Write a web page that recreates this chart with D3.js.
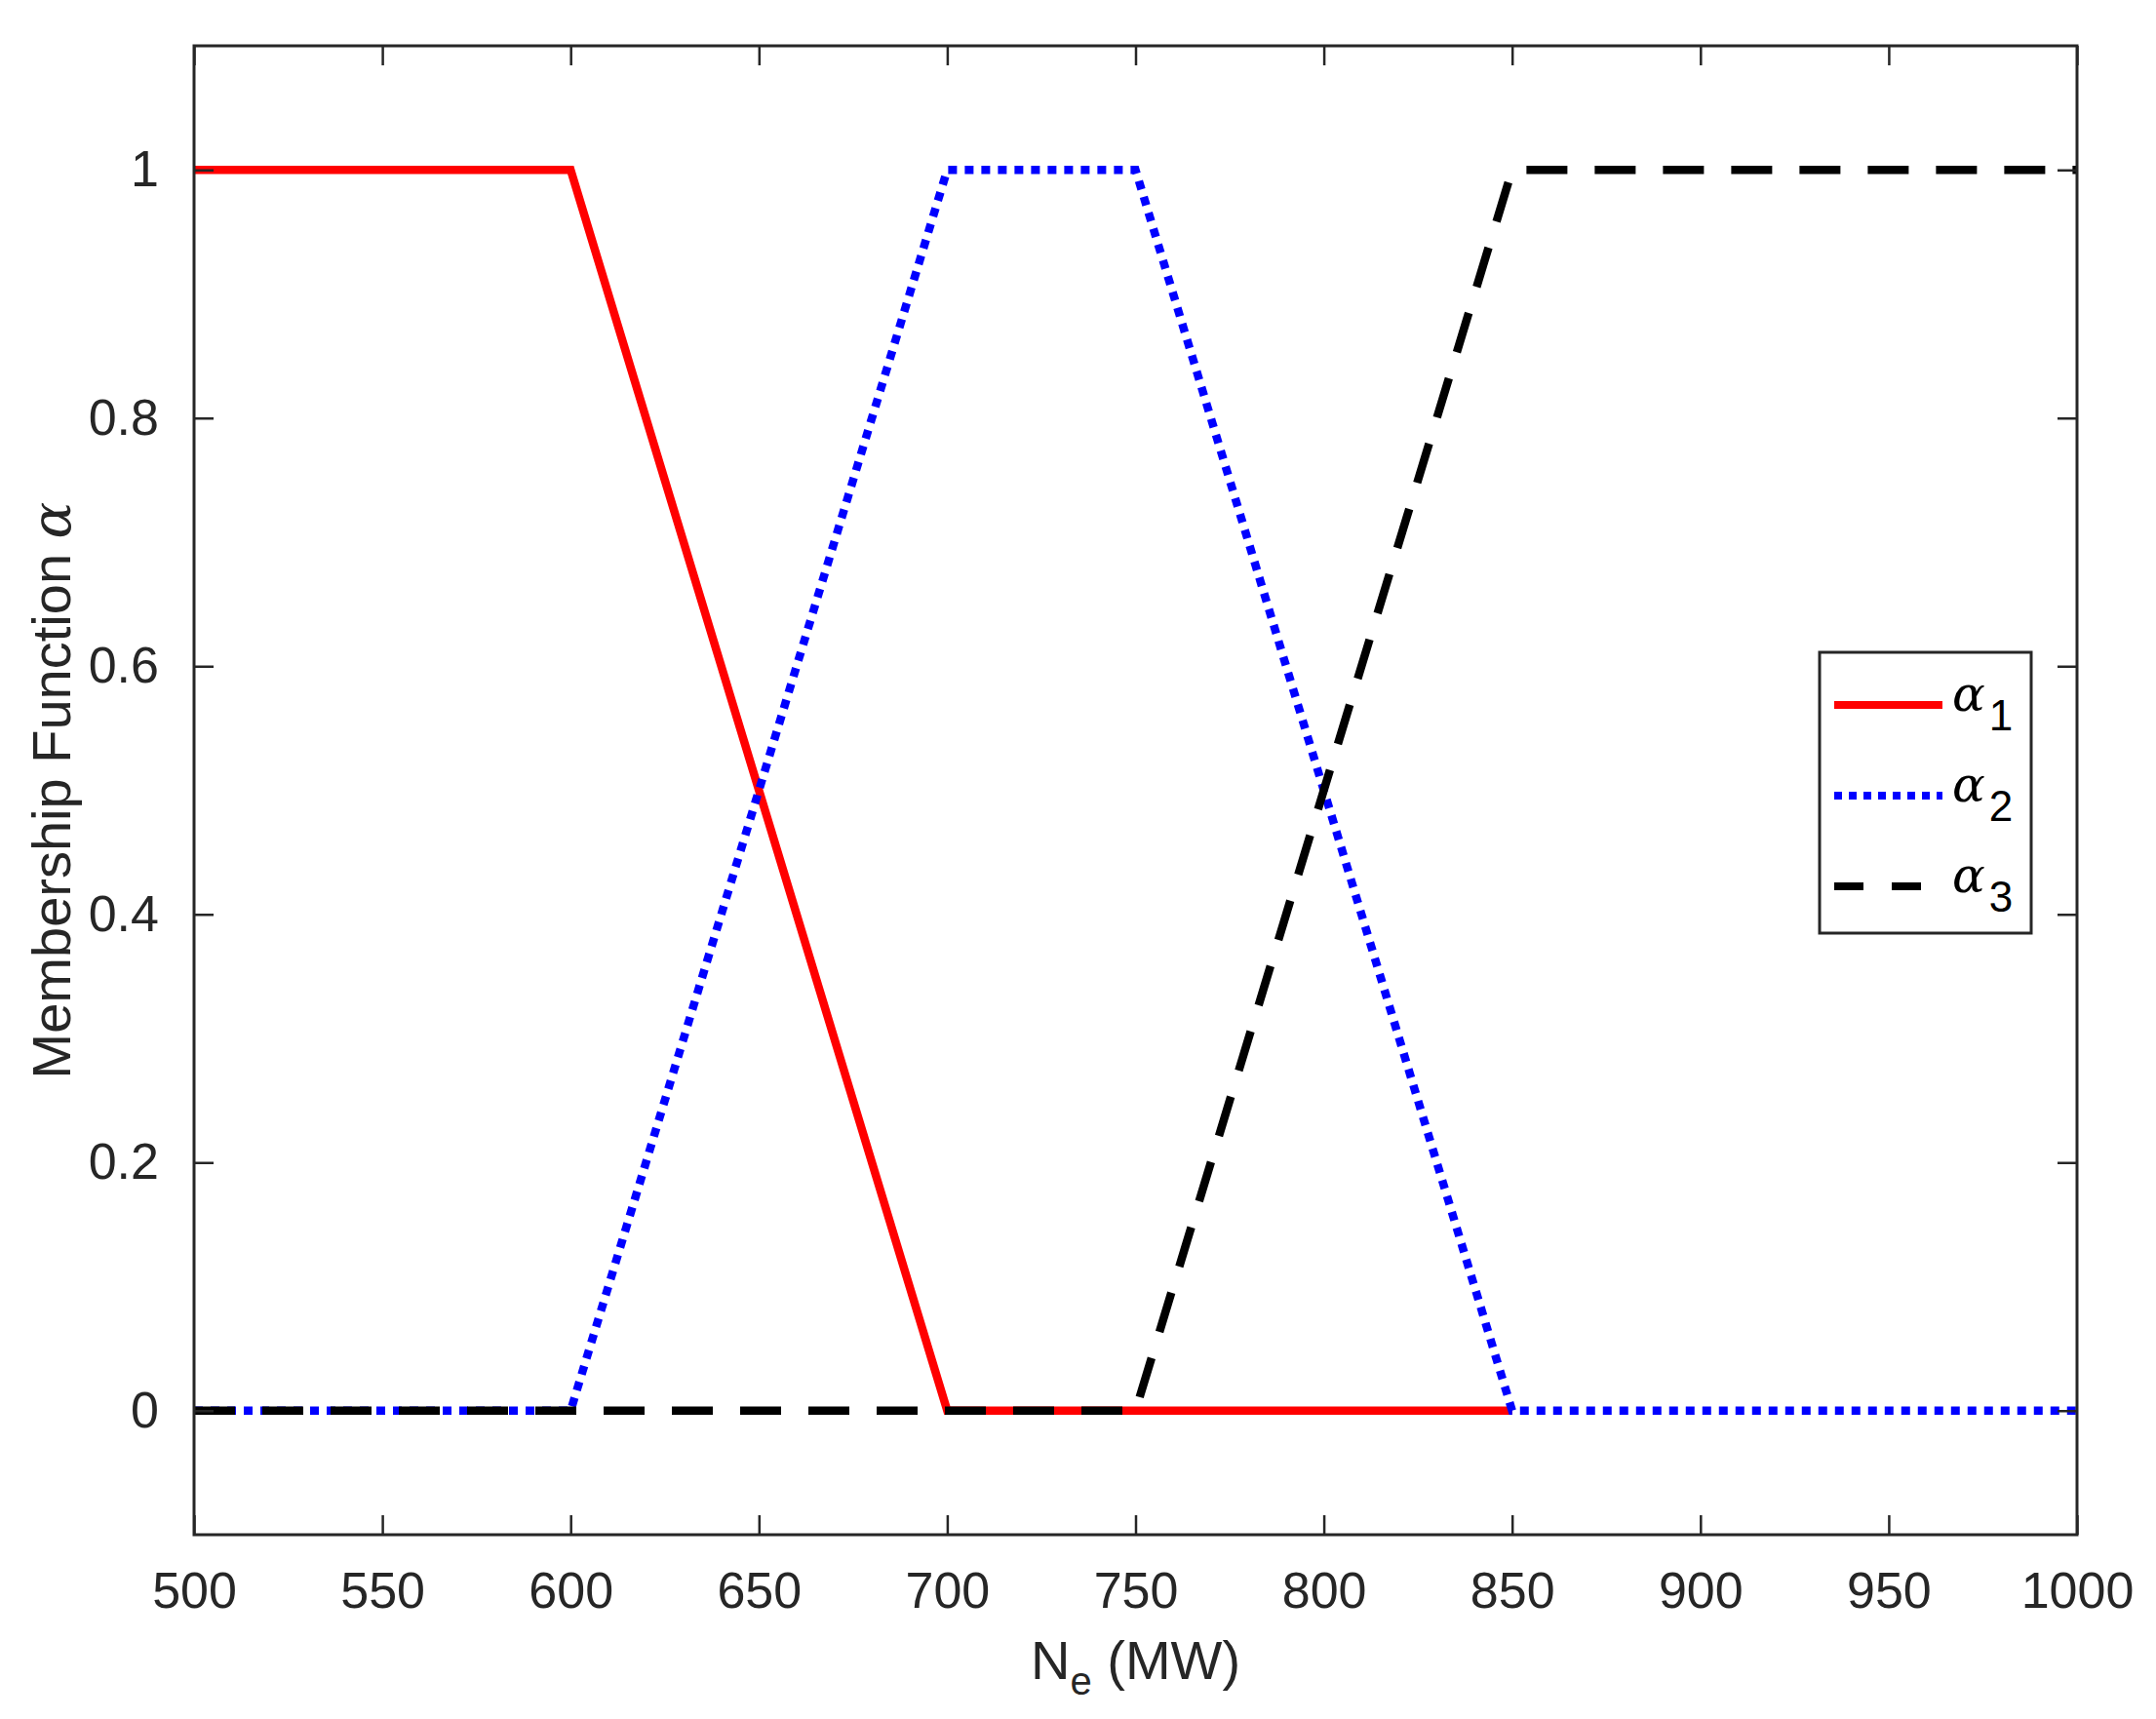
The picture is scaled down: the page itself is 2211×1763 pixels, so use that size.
<!DOCTYPE html>
<html><head><meta charset="utf-8">
<script src="https://cdn.jsdelivr.net/npm/d3@7"></script>
<style>body{margin:0;background:#fff}svg text{font-family:"Liberation Sans",Arial,sans-serif;fill:#262626}</style>
</head><body>
<div id="chart"></div>
<script>
// membership function breakpoints
var x1 = [500, 600, 700, 850];
var alpha1 = [1, 1, 0, 0];
var x2 = [500, 600, 700, 750, 850, 1000];
var alpha2 = [0, 0, 1, 1, 0, 0];
var x3 = [500, 700, 750, 850, 1000];
var alpha3 = [0, 0, 0, 1, 1];
var xTicks = [500, 550, 600, 650, 700, 750, 800, 850, 900, 950, 1000];
var yTicks = [0, 0.2, 0.4, 0.6, 0.8, 1];
var seriesNames = ["1", "2", "3"];

var W = 2211, H = 1763;
var m = {left: 199, right: 2130, top: 47, bottom: 1574};
var svg = d3.select("#chart").append("svg").attr("width", W).attr("height", H);

var x = d3.scaleLinear().domain([500, 1000]).range([m.left, m.right]);
var y = d3.scaleLinear().domain([-0.1, 1.1]).range([m.bottom, m.top]);

var series = [
  {xs: x1, ys: alpha1, color: "#ff0000", dash: null},
  {xs: x2, ys: alpha2, color: "#0000ff", dash: "9,8"},
  {xs: x3, ys: alpha3, color: "#000000", dash: "42,28"}
];
var line = d3.line().x(d => x(d[0])).y(d => y(d[1]));
series.forEach(s => {
  svg.append("path").datum(s.xs.map((v, i) => [v, s.ys[i]]))
    .attr("d", line).attr("fill", "none").attr("stroke", s.color)
    .attr("stroke-width", 8.5).attr("stroke-dasharray", s.dash);
});

// axes, ticks inside on all four sides
var tl = 20;
var axStyle = g => { g.select(".domain").remove(); g.selectAll("line").attr("stroke", "#262626").attr("stroke-width", 2.5); g.selectAll("text").attr("font-size", 52).style("fill", "#262626"); };
svg.append("g").attr("transform", `translate(0,${m.bottom})`)
  .call(d3.axisBottom(x).tickValues(xTicks).tickSizeInner(-tl).tickSizeOuter(0).tickPadding(38).tickFormat(d3.format("d"))).call(axStyle);
svg.append("g").attr("transform", `translate(0,${m.top})`)
  .call(d3.axisTop(x).tickValues(xTicks).tickSizeInner(-tl).tickSizeOuter(0).tickFormat("")).call(axStyle);
svg.append("g").attr("transform", `translate(${m.left},0)`)
  .call(d3.axisLeft(y).tickValues(yTicks).tickSizeInner(-tl).tickSizeOuter(0).tickPadding(36).tickFormat(d => d === 0 || d === 1 ? d : d3.format(".1f")(d))).call(axStyle);
svg.append("g").attr("transform", `translate(${m.right},0)`)
  .call(d3.axisRight(y).tickValues(yTicks).tickSizeInner(-tl).tickSizeOuter(0).tickFormat("")).call(axStyle);
svg.append("rect").attr("x", m.left).attr("y", m.top).attr("width", m.right - m.left).attr("height", m.bottom - m.top)
  .attr("fill", "none").attr("stroke", "#262626").attr("stroke-width", 3);

// labels
var xl = svg.append("text").attr("x", (m.left + m.right) / 2).attr("y", 1722).attr("text-anchor", "middle").attr("font-size", 56);
xl.append("tspan").text("N");
xl.append("tspan").attr("dy", 16).attr("font-size", 40).text("e");
xl.append("tspan").attr("dy", -16).text(" (MW)");
var yl = svg.append("text").attr("transform", `translate(72,${(m.top + m.bottom) / 2}) rotate(-90)`).attr("text-anchor", "middle").attr("font-size", 56);
yl.append("tspan").text("Membership Function ");
yl.append("tspan").attr("font-family", "DejaVu Serif").attr("font-style", "italic").text("α");

// legend
var lg = svg.append("g").attr("transform", "translate(1866,669)");
lg.append("rect").attr("width", 217).attr("height", 288).attr("fill", "#fff").attr("stroke", "#262626").attr("stroke-width", 3);
series.forEach((s, i) => {
  var yy = 54 + i * 93;
  lg.append("line").attr("x1", 15).attr("x2", 126).attr("y1", yy).attr("y2", yy)
    .attr("stroke", s.color).attr("stroke-width", 8).attr("stroke-dasharray", s.dash ? (i === 2 ? "30,29" : "8,7") : null);
  var t = lg.append("text").attr("x", 136).attr("y", yy + 6).attr("font-size", 50).style("fill", "#000");
  t.append("tspan").attr("font-family", "DejaVu Serif").attr("font-style", "italic").text("α");
  t.append("tspan").attr("dx", 4).attr("dy", 20).attr("font-size", 44).text(seriesNames[i]);
});
</script>
</body></html>
